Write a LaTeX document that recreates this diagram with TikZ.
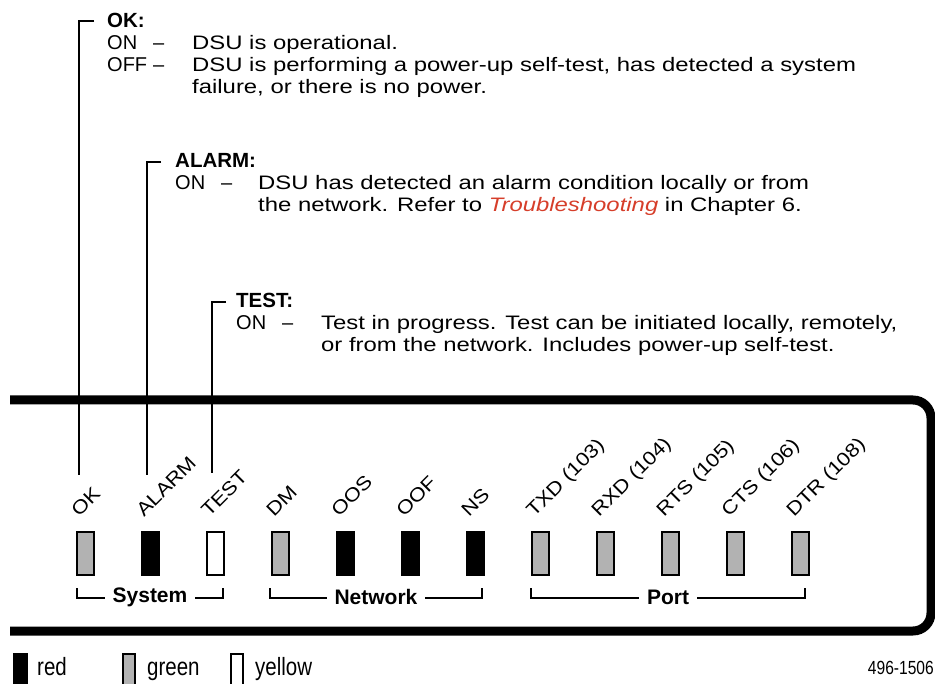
\documentclass[tikz,border=0pt]{standalone}
\usepackage{fontspec}
\setmainfont{Liberation Sans}
\newfontfamily\widefont[FakeStretch=1.225,Ligatures=TeX]{Liberation Sans}
\newfontfamily\lblfont[FakeStretch=1.15]{Liberation Sans}
\newfontfamily\narrowfont[FakeStretch=0.82]{Liberation Sans}
\definecolor{ledgreen}{gray}{0.70}
\definecolor{linkred}{RGB}{214,62,42}
\tikzset{
  txt/.style={anchor=base west, inner sep=0pt, font=\widefont\fontsize{19.5}{22}\selectfont},
  lead/.style={anchor=base west, inner sep=0pt, font=\fontsize{20}{22}\selectfont},
  hdr/.style={anchor=base west, inner sep=0pt, font=\bfseries\fontsize{20.5}{22}\selectfont},
  ledbox/.style={draw, line width=2.2pt, minimum width=17pt, minimum height=43pt, inner sep=0pt, anchor=north west},
  ledgrn/.style={ledbox, fill=ledgreen},
  ledred/.style={ledbox, fill=black},
  ledyel/.style={ledbox, fill=white},
  lbl/.style={rotate=45, anchor=base west, inner sep=0pt, font=\lblfont\fontsize{19}{19}\selectfont},
  frameline/.style={line width=9pt},
  conn/.style={line width=2.5pt},
  grp/.style={line width=2.5pt},
  grplbl/.style={fill=white, inner xsep=8pt, inner ysep=1pt, font=\bfseries\fontsize{21}{23}\selectfont},
  swatch/.style={draw, line width=1.2pt},
  legtxt/.style={anchor=base west, inner sep=0pt, font=\narrowfont\fontsize{25}{27}\selectfont}
}
\begin{document}
\begin{tikzpicture}[x=1pt,y=-1pt]
\useasboundingbox (0,0) rectangle (935,684);
\clip (0,0) rectangle (935,684);

% ---------- OK block ----------
\node[hdr] (okH) at (107,28) {OK:};
\node[lead] (okOn) at (107,50) {ON};
\node[lead] (okOnD) at (153,50) {\textendash};
\node[txt] (okOnT) at (192,50) {DSU is operational.};
\node[lead] (okOff) at (107,72) {OFF};
\node[lead] (okOffD) at (153,72) {\textendash};
\node[txt] (okOffT) at (192,72) {DSU is performing a power-up self-test, has detected a system};
\node[txt] (okOffT2) at (192,94) {failure, or there is no power.};

% ---------- ALARM block ----------
\node[hdr] (alH) at (175,168) {ALARM:};
\node[lead] (alOn) at (175,190) {ON};
\node[lead] (alOnD) at (221,190) {\textendash};
\node[txt] (alOnT) at (258,190) {DSU has detected an alarm condition locally or from};
\node[txt] (alOnT2) at (258,212) {the network. Refer to \textcolor{linkred}{\itshape Troubleshooting} in Chapter 6.};

% ---------- TEST block ----------
\node[hdr] (tsH) at (236,308) {TEST:};
\node[lead] (tsOn) at (236,330) {ON};
\node[lead] (tsOnD) at (282,330) {\textendash};
\node[txt] (tsOnT) at (321,330) {Test in progress. Test can be initiated locally, remotely,};
\node[txt] (tsOnT2) at (321,352) {or from the network. Includes power-up self-test.};

% ---------- front panel frame ----------
\draw[frameline, rounded corners=18pt] (10,400) -- (931,400) -- (931,631) -- (10,631);

% ---------- LEDs ----------
\node[ledgrn] (ledOK)  at (76,531) {};
\node[ledred] (ledAL)  at (141,531) {};
\node[ledyel] (ledTS)  at (206,531) {};
\node[ledgrn] (ledDM)  at (271,531) {};
\node[ledred] (ledOOS) at (336,531) {};
\node[ledred] (ledOOF) at (401,531) {};
\node[ledred] (ledNS)  at (466,531) {};
\node[ledgrn] (ledTXD) at (531,531) {};
\node[ledgrn] (ledRXD) at (596,531) {};
\node[ledgrn] (ledRTS) at (661,531) {};
\node[ledgrn] (ledCTS) at (726,531) {};
\node[ledgrn] (ledDTR) at (791,531) {};

% ---------- LED labels ----------
\node[lbl] (lOK)  at (79,518) {OK};
\node[lbl] (lAL)  at (144,518) {ALARM};
\node[lbl] (lTS)  at (209,518) {TEST};
\node[lbl] (lDM)  at (274,518) {DM};
\node[lbl] (lOOS) at (339,518) {OOS};
\node[lbl] (lOOF) at (404,518) {OOF};
\node[lbl] (lNS)  at (469,518) {NS};
\node[lbl] (lTXD) at (534,518) {TXD (103)};
\node[lbl] (lRXD) at (599,518) {RXD (104)};
\node[lbl] (lRTS) at (664,518) {RTS (105)};
\node[lbl] (lCTS) at (729,518) {CTS (106)};
\node[lbl] (lDTR) at (794,518) {DTR (108)};

% ---------- callout connectors ----------
\coordinate (okTip) at (94,21);
\coordinate (okCorner) at (79,21);
\coordinate (okEnd) at (79,475);
\draw[conn] (okTip) -- (okCorner) -- (okEnd);
\coordinate (alTip) at (161,162);
\coordinate (alCorner) at (147,162);
\coordinate (alEnd) at (147,475);
\draw[conn] (alTip) -- (alCorner) -- (alEnd);
\coordinate (tsTip) at (226,302);
\coordinate (tsCorner) at (212,302);
\coordinate (tsEnd) at (212,473);
\draw[conn] (tsTip) -- (tsCorner) -- (tsEnd);

% ---------- group brackets ----------
\draw[grp] (77,588) -- (77,598) -- (223,598) -- (223,588);
\node[grplbl] (gSys) at (150,597) {System};
\draw[grp] (270,588) -- (270,598) -- (482,598) -- (482,588);
\node[grplbl] (gNet) at (376,597) {Network};
\draw[grp] (531,588) -- (531,598) -- (805,598) -- (805,588);
\node[grplbl] (gPort) at (668,597) {Port};

% ---------- legend ----------
\draw[swatch, fill=black] (14,654) rectangle (27,690);
\node[legtxt] (legR) at (37,675) {red};
\draw[swatch, fill=ledgreen] (123,654) rectangle (135,690);
\node[legtxt] (legG) at (147,675) {green};
\draw[swatch, fill=white] (231,654) rectangle (243,690);
\node[legtxt] (legY) at (255,675) {yellow};
\node[anchor=base east, inner sep=0pt, font=\narrowfont\fontsize{19}{21}\selectfont] (fig) at (934,674) {496-1506};
\end{tikzpicture}
\end{document}
